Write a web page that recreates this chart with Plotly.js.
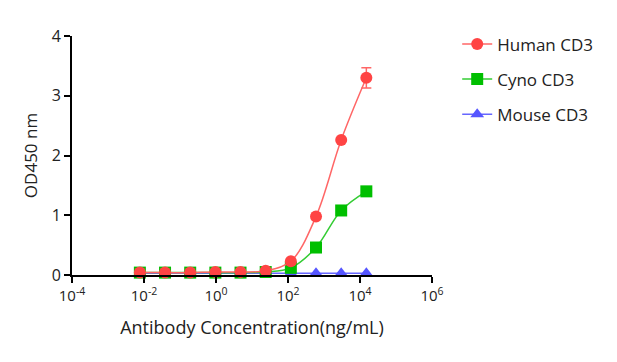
<!DOCTYPE html>
<html><head><meta charset="utf-8">
<script src="https://cdn.plot.ly/plotly-3.0.1.min.js"></script>
<style>body{margin:0;background:#fff}#c{width:617px;height:362px}</style>
</head><body><div id="c"></div>
<script>
const conc = [15000, 3000, 600, 120, 24, 4.8, 0.96, 0.192, 0.0384, 0.00768];
const human = [3.30, 2.26, 0.98, 0.23, 0.07, 0.05, 0.05, 0.04, 0.04, 0.04];
const humanErr = [0.17, 0.02, 0.02, 0.01, 0, 0, 0, 0, 0, 0];
const cyno = [1.40, 1.08, 0.46, 0.12, 0.05, 0.04, 0.04, 0.04, 0.04, 0.04];
const mouse = [0.03, 0.03, 0.03, 0.03, 0.03, 0.03, 0.03, 0.03, 0.03, 0.03];
const names = ['Human CD3', 'Cyno CD3', 'Mouse CD3'];
const tickVals = [1e-4, 1e-2, 1, 1e2, 1e4, 1e6];
const tickText = ['10<sup>-4</sup>', '10<sup>-2</sup>', '10<sup>0</sup>', '10<sup>2</sup>', '10<sup>4</sup>', '10<sup>6</sup>'];

const font = '"Open Sans", Lato, sans-serif';
const traces = [
  {x: conc, y: mouse, name: names[2], legendrank: 3, legendgroup: 'm', type: 'scatter', mode: 'lines+markers',
   line: {color: '#6666ff', width: 1.5, shape: 'spline'},
   marker: {symbol: 'triangle-up', size: 12, color: '#5555ff'}, cliponaxis: false},
  {x: conc, y: cyno, name: names[1], legendrank: 2, legendgroup: 'c', type: 'scatter', mode: 'lines+markers',
   line: {color: '#33cc33', width: 1.5, shape: 'spline', smoothing: 1},
   marker: {symbol: 'square', size: 12, color: '#00bf00'}, cliponaxis: false},
  {x: conc, y: human, name: names[0], legendrank: 1, legendgroup: 'h', type: 'scatter', mode: 'lines+markers',
   error_y: {type: 'data', array: humanErr, visible: true, color: '#ff6666', thickness: 1.5, width: 5},
   line: {color: '#ff6666', width: 1.5, shape: 'spline', smoothing: 1},
   marker: {symbol: 'circle', size: 12, color: '#ff4444'}, cliponaxis: false}
];
const layout = {
  width: 617, height: 362,
  margin: {l: 72, r: 185, t: 36, b: 87},
  paper_bgcolor: '#fff', plot_bgcolor: '#fff',
  font: {family: font, color: '#222', size: 15},
  showlegend: true,
  legend: {x: 1.07, y: 1.04, xanchor: 'left', yanchor: 'top', traceorder: 'grouped', tracegroupgap: 10,
           font: {size: 17, family: font, color: '#222'}, bgcolor: 'rgba(0,0,0,0)'},
  xaxis: {type: 'log', range: [-4, 6], tickvals: tickVals, ticktext: tickText,
          showgrid: false, zeroline: false, showline: true, linecolor: '#000', linewidth: 2,
          ticks: 'outside', ticklen: 6, tickwidth: 2, tickcolor: '#000',
          tickfont: {size: 15, family: font, color: '#222'},
          title: {text: 'Antibody Concentration(ng/mL)', font: {size: 18, family: font, color: '#222'}, standoff: 17}},
  yaxis: {range: [0, 4], tickvals: [0, 1, 2, 3, 4],
          showgrid: false, zeroline: false, showline: true, linecolor: '#000', linewidth: 2,
          ticks: 'outside', ticklen: 6, tickwidth: 2, tickcolor: '#000',
          tickfont: {size: 16, family: font, color: '#222'},
          title: {text: 'OD450 nm', font: {size: 17, family: font, color: '#222'}, standoff: 10}}
};
Plotly.newPlot('c', traces, layout, {displayModeBar: false, staticPlot: true});
</script></body></html>
